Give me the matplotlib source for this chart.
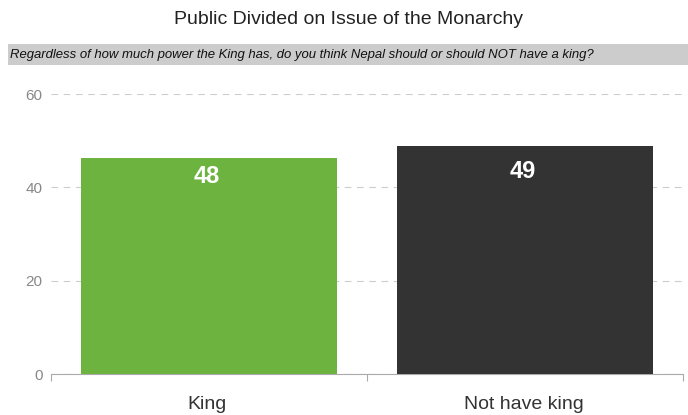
import matplotlib
matplotlib.use("Agg")
import matplotlib.pyplot as plt
from matplotlib.patches import Rectangle

plt.rcParams['font.family'] = ['Liberation Sans', 'DejaVu Sans']

categories = ["King", "Not have king"]
values = [46.3, 48.8]          # drawn bar heights
label_values = [48, 49]        # reported values (labels)
colors = ["#6db33f", "#333333"]
yticks = [0, 20, 40, 60]

title = "Public Divided on Issue of the Monarchy"
subtitle = "Regardless of how much power the King has, do you think Nepal should or should NOT have a king?"

W, H = 688, 415
fig = plt.figure(figsize=(W/100, H/100), dpi=100)
ax = fig.add_axes([51/W, 1-374/H, (683-51)/W, (374-94)/H])

x = list(range(len(categories)))
bars = ax.bar(x, values, width=0.81, color=colors, zorder=3)
ax.set_xlim(-0.5, len(categories)-0.5)
ax.set_ylim(0, 60)
ax.set_yticks(yticks)
ax.set_yticklabels([str(v) for v in yticks], color="#888888", fontsize=11)
ax.tick_params(axis='y', length=0, pad=6)
ax.grid(axis='y', color="#cccccc", linestyle=(0, (6, 5)), linewidth=0.8, zorder=0)
ax.set_axisbelow(True)

ax.set_xticks([-0.5, 0.5, 1.5])
ax.set_xticklabels([])
ax.tick_params(axis='x', length=5, color="#aaaaaa", width=0.8)
for i, c in enumerate(categories):
    ax.text(i - 0.005, -0.08, c, transform=ax.get_xaxis_transform(), ha='center', va='top',
            fontsize=14, color="#333333")

for s in ['top', 'right', 'left']:
    ax.spines[s].set_visible(False)
ax.spines['bottom'].set_color("#aaaaaa")
ax.spines['bottom'].set_linewidth(0.8)

for b, v in zip(bars, label_values):
    ax.annotate(str(v), (b.get_x()+b.get_width()/2, v), xytext=(-1.5, -10.8),
                textcoords='offset points', ha='center', va='top', fontsize=17,
                fontweight='bold', color='white', zorder=4)

fig.text(348/W, 1-20/H, title, ha='center', va='center', fontsize=14, color="#222222")
fig.patches.append(Rectangle((8/W, 1-65/H), (W-8)/W, 21/H, transform=fig.transFigure,
                             facecolor="#cccccc", edgecolor='none', zorder=0))
fig.text(10/W, 1-55/H, subtitle, ha='left', va='center', fontsize=9.45, style='italic',
         color="#111111")

fig.savefig("out.png", dpi=100)
